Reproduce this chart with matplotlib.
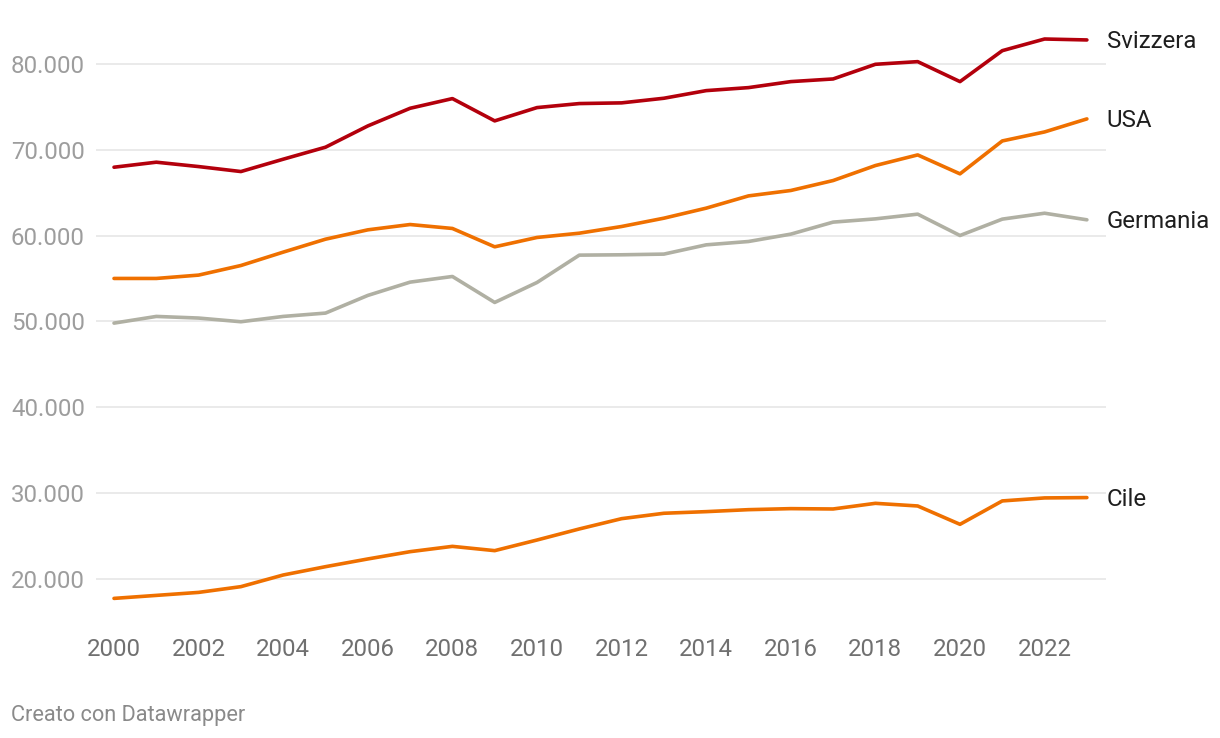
import matplotlib

matplotlib.use("Agg")
import matplotlib.pyplot as plt
from matplotlib.ticker import FuncFormatter

plt.rcParams["font.family"] = ["Roboto", "DejaVu Sans"]

# ---------- data ----------
years = list(range(2000, 2024))

svizzera = [67995, 68580, 68070, 67490, 68930, 70330, 72810, 74870, 76000, 73400,
            74950, 75420, 75500, 76040, 76930, 77280, 77980, 78290, 80000, 80310,
            77980, 81590, 82950, 82840]
usa = [55020, 55020, 55410, 56530, 58090, 59600, 60690, 61310, 60850, 58710,
       59800, 60300, 61080, 62050, 63220, 64650, 65280, 66440, 68190, 69430,
       67220, 71060, 72110, 73630]
germania = [49810, 50590, 50400, 49970, 50590, 50980, 53040, 54590, 55250, 52220,
            54550, 57740, 57780, 57860, 58940, 59330, 60190, 61590, 61970, 62520,
            60030, 61940, 62630, 61860]
cile = [17700, 18050, 18400, 19070, 20430, 21400, 22300, 23150, 23770, 23270,
        24510, 25800, 27000, 27630, 27820, 28050, 28170, 28130, 28790, 28480,
        26340, 29070, 29420, 29460]

series = [
    ("Svizzera", svizzera, "#b3000c"),
    ("USA", usa, "#ef7000"),
    ("Germania", germania, "#b0b0a3"),
    ("Cile", cile, "#ef7000"),
]

y_ticks = [20000, 30000, 40000, 50000, 60000, 70000, 80000]
x_ticks = list(range(2000, 2023, 2))

GRID = "#e4e4e4"
YTICK = "#9d9d9d"
XTICK = "#707070"
LABEL = "#1e1e1e"
FS = 17.3

W, H = 1220, 738
fig = plt.figure(figsize=(W / 100, H / 100), dpi=100)
fig.patch.set_facecolor("white")
ax = fig.add_axes([96 / W, (H - 620) / H, 1010 / W, 600 / H])

ax.set_xlim(1999.574, 2023.452)
ax.set_ylim(15180, 85167)

for name, vals, color in series:
    ax.plot(years, vals, color=color, linewidth=2.6, solid_capstyle="round",
            solid_joinstyle="round", zorder=3)
    ax.annotate(name, xy=(1, vals[-1]), xycoords=("axes fraction", "data"),
                xytext=(0.5, -1.2), textcoords="offset points",
                va="center", ha="left", fontsize=FS, color=LABEL,
                annotation_clip=False)

for spine in ax.spines.values():
    spine.set_visible(False)

ax.set_yticks(y_ticks)
ax.yaxis.set_major_formatter(FuncFormatter(lambda v, _: f"{int(v):,}".replace(",", ".")))
ax.tick_params(axis="y", length=0, pad=61.2, labelsize=FS, labelcolor=YTICK)
for lbl in ax.get_yticklabels():
    lbl.set_horizontalalignment("left")
ax.grid(axis="y", color=GRID, linewidth=1.1, zorder=0)

ax.set_xticks(x_ticks)
ax.tick_params(axis="x", length=0, pad=13, labelsize=FS, labelcolor=XTICK)

fig.text(11 / W, (H - 715) / H, "Creato con Datawrapper", fontsize=15.7,
         color="#8a8a8a", ha="left", va="center")

fig.savefig("out.png", dpi=100, facecolor="white")
